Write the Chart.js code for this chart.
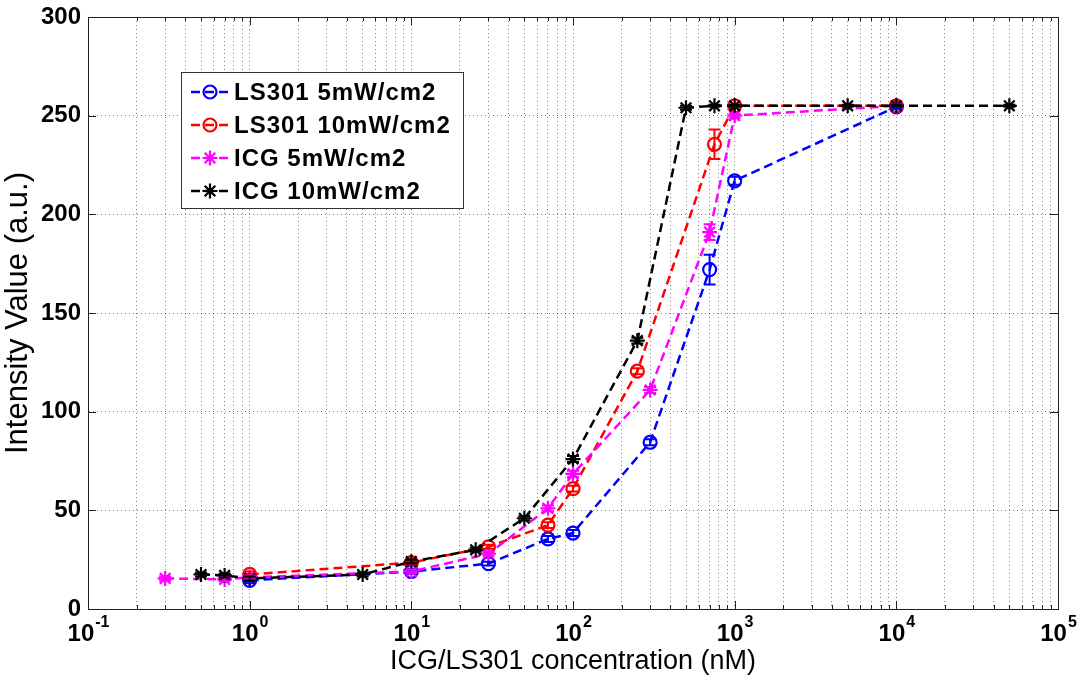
<!DOCTYPE html>
<html>
<head>
<meta charset="utf-8">
<script src="https://cdn.jsdelivr.net/npm/chart.js@4.4.0/dist/chart.umd.min.js"></script>
<style>
  html, body { margin: 0; padding: 0; background: #fff; }
</style>
</head>
<body>
<canvas id="intensityChart" width="1082" height="680"></canvas>
<script>
// concentration (nM) / intensity (a.u.) / error, one set per series
const ls301Low_conc = [1, 10, 30, 70, 100, 300, 700, 1000, 10000];
const ls301Low_val  = [14.5, 19, 23, 35.5, 38.5, 84.5, 172, 217, 254.5];
const ls301Low_err  = [1.5, 1, 1, 1.5, 1.5, 1.5, 7.5, 2, 1];

const ls301High_conc = [1, 10, 30, 70, 100, 250, 750, 1000, 10000];
const ls301High_val  = [17.5, 23.5, 31.5, 42.5, 61, 120.5, 235.5, 255, 255];
const ls301High_err  = [1.5, 1, 1, 1.5, 1.5, 1.5, 7.5, 0.5, 0.5];

const icgLow_conc = [0.3, 0.7, 1, 10, 30, 70, 100, 300, 700, 1000, 10000];
const icgLow_val  = [15.5, 15, 16, 19, 28, 51, 68.5, 111, 191, 250, 255];
const icgLow_err  = [1, 1, 1, 1, 1, 1.5, 1.5, 1.5, 4, 1, 0.5];

const icgHigh_conc = [0.5, 0.7, 1, 5, 10, 25, 50, 100, 250, 500, 750, 1000, 5000, 10000, 50000];
const icgHigh_val  = [17.5, 17, 15.5, 17.5, 24, 30, 46, 76, 136, 254, 255, 255, 255, 255, 255];
const icgHigh_err  = [1, 1, 1, 1, 1, 1, 1, 1.5, 1.5, 1, 0.5, 0.5, 0.5, 0.5, 0.5];

const seriesNames = ["LS301 5mW/cm2", "LS301 10mW/cm2", "ICG 5mW/cm2", "ICG 10mW/cm2"];
const seriesColors = ["#0000FF", "#FF0000", "#FF00FF", "#000000"];

const yTicks = [0, 50, 100, 150, 200, 250, 300];

const FONT = "'Liberation Sans', Arial, Helvetica, sans-serif";

// log axis ticks: 1..9 x 10^n
const xTickValues = [];
for (let e = -1; e <= 4; e++) {
    for (let k = 1; k <= 9; k++) {
        xTickValues.push(Number((k * Math.pow(10, e)).toPrecision(6)));
    }
}
xTickValues.push(1e5);

const isDecade = (v) => Math.abs(Math.log10(v) - Math.round(Math.log10(v))) < 1e-9;

const toPoints = (xs, ys) => xs.map((x, i) => ({ x: x, y: ys[i] }));

const makeSet = (idx, xs, ys, errs, style, order) => ({
    label: seriesNames[idx],
    data: toPoints(xs, ys),
    errors: errs,
    borderColor: seriesColors[idx],
    backgroundColor: seriesColors[idx],
    borderWidth: 2.5,
    borderDash: [9, 5],
    tension: 0,
    fill: false,
    pointStyle: style,
    pointRadius: style === "circle" ? 6.5 : 7.5,
    pointBorderWidth: 2.2,
    pointBorderColor: seriesColors[idx],
    pointBackgroundColor: "rgba(0,0,0,0)",
    order: order
});

const errorBars = {
    id: "errorBars",
    afterDatasetsDraw(chart) {
        const ctx = chart.ctx;
        const xs = chart.scales.x, ys = chart.scales.y;
        chart.data.datasets.forEach((ds) => {
            ctx.save();
            ctx.strokeStyle = ds.borderColor;
            ctx.lineWidth = 2;
            ds.data.forEach((p, i) => {
                const e = ds.errors[i];
                if (!e) return;
                const px = xs.getPixelForValue(p.x);
                const top = ys.getPixelForValue(p.y + e);
                const bot = ys.getPixelForValue(p.y - e);
                ctx.beginPath();
                ctx.moveTo(px, top); ctx.lineTo(px, bot);
                ctx.moveTo(px - 6, top); ctx.lineTo(px + 6, top);
                ctx.moveTo(px - 6, bot); ctx.lineTo(px + 6, bot);
                ctx.stroke();
            });
            ctx.restore();
        });
    }
};

// frame, inward ticks and the 10^n labels with a raised exponent
const frameTicks = {
    id: "frameTicks",
    afterDraw(chart) {
        const ctx = chart.ctx;
        const a = chart.chartArea;
        const xs = chart.scales.x, ys = chart.scales.y;
        ctx.save();
        ctx.strokeStyle = "#222";
        ctx.lineWidth = 1;
        ctx.beginPath();
        xTickValues.forEach((v) => {
            const px = Math.round(xs.getPixelForValue(v)) + 0.5;
            const len = isDecade(v) ? 8 : 4;
            ctx.moveTo(px, a.bottom); ctx.lineTo(px, a.bottom - len);
            ctx.moveTo(px, a.top); ctx.lineTo(px, a.top + len);
        });
        yTicks.forEach((v) => {
            const py = Math.round(ys.getPixelForValue(v)) + 0.5;
            ctx.moveTo(a.left, py); ctx.lineTo(a.left + 8, py);
            ctx.moveTo(a.right, py); ctx.lineTo(a.right - 8, py);
        });
        ctx.stroke();
        ctx.strokeRect(Math.round(a.left) + 0.5, Math.round(a.top) + 0.5,
            Math.round(a.right - a.left), Math.round(a.bottom - a.top));

        ctx.fillStyle = "#000";
        ctx.textBaseline = "alphabetic";
        ctx.textAlign = "left";
        xTickValues.filter(isDecade).forEach((v) => {
            const px = xs.getPixelForValue(v);
            const ex = String(Math.round(Math.log10(v)));
            ctx.font = "bold 24px " + FONT;
            const wBase = ctx.measureText("10").width;
            ctx.font = "bold 16px " + FONT;
            const wExp = ctx.measureText(ex).width;
            const x0 = px - (wBase + wExp) / 2;
            ctx.font = "bold 24px " + FONT;
            ctx.fillText("10", x0, 641);
            ctx.font = "bold 16px " + FONT;
            ctx.fillText(ex, x0 + wBase + 1, 627);
        });
        ctx.restore();
    }
};

const boxLegend = {
    id: "boxLegend",
    afterDraw(chart) {
        const ctx = chart.ctx;
        const bx = 181, by = 72, bw = 282, bh = 136;
        ctx.save();
        ctx.fillStyle = "#fff";
        ctx.fillRect(bx, by, bw, bh);
        ctx.strokeStyle = "#333";
        ctx.lineWidth = 1;
        ctx.strokeRect(bx + 0.5, by + 0.5, bw, bh);
        const byName = {};
        chart.data.datasets.forEach((ds) => { byName[ds.label] = ds; });
        seriesNames.forEach((name, i) => {
            const ds = byName[name];
            const cy = by + 20 + i * 33;
            ctx.strokeStyle = ds.borderColor;
            ctx.lineWidth = 2.5;
            ctx.setLineDash([9, 5]);
            ctx.beginPath();
            ctx.moveTo(191, cy); ctx.lineTo(232, cy);
            ctx.stroke();
            ctx.setLineDash([]);
            ctx.lineWidth = 2.2;
            const mx = 210;
            ctx.beginPath();
            if (ds.pointStyle === "circle") {
                ctx.arc(mx, cy, 6.5, 0, Math.PI * 2);
            } else {
                const r = 7.5, d = r * Math.SQRT1_2;
                ctx.moveTo(mx - r, cy); ctx.lineTo(mx + r, cy);
                ctx.moveTo(mx, cy - r); ctx.lineTo(mx, cy + r);
                ctx.moveTo(mx - d, cy - d); ctx.lineTo(mx + d, cy + d);
                ctx.moveTo(mx - d, cy + d); ctx.lineTo(mx + d, cy - d);
            }
            ctx.stroke();
            ctx.fillStyle = "#000";
            ctx.font = "bold 24px " + FONT;
            ctx.letterSpacing = "1px";
            ctx.textBaseline = "middle";
            ctx.textAlign = "left";
            ctx.fillText(name, 234, cy + 1);
        });
        ctx.restore();
    }
};

const canvas = document.getElementById("intensityChart");

new Chart(canvas, {
    type: "line",
    data: {
        datasets: [
            makeSet(0, ls301Low_conc, ls301Low_val, ls301Low_err, "circle", 3),
            makeSet(1, ls301High_conc, ls301High_val, ls301High_err, "circle", 2),
            makeSet(2, icgLow_conc, icgLow_val, icgLow_err, "star", 1),
            makeSet(3, icgHigh_conc, icgHigh_val, icgHigh_err, "star", 0)
        ]
    },
    options: {
        responsive: false,
        animation: false,
        devicePixelRatio: 1,
        layout: { padding: { top: 17, right: 24, bottom: 0, left: 0 } },
        plugins: {
            legend: { display: false },
            tooltip: { enabled: false }
        },
        scales: {
            x: {
                type: "logarithmic",
                min: 0.1,
                max: 1e5,
                afterBuildTicks: (scale) => {
                    scale.ticks = xTickValues.map((v) => ({ value: v, major: isDecade(v) }));
                },
                afterFit: (scale) => {
                    scale.height = 71;
                    scale.paddingLeft = 0;
                    scale.paddingRight = 0;
                },
                ticks: {
                    autoSkip: false,
                    maxRotation: 0,
                    padding: 6,
                    color: "#000",
                    font: { family: FONT, size: 24, weight: "bold" },
                    // drawn by frameTicks with a raised exponent
                    callback: () => ""
                },
                grid: { color: "rgba(0,0,0,0.5)", lineWidth: 1, drawTicks: false },
                border: { display: true, color: "#222", width: 1, dash: [1, 3] },
                title: {
                    display: true,
                    text: "ICG/LS301 concentration (nM)",
                    color: "#000",
                    font: { family: FONT, size: 27 },
                    padding: { top: 0, bottom: 2 }
                }
            },
            y: {
                min: 0,
                max: 300,
                afterFit: (scale) => {
                    scale.width = 88;
                    scale.paddingTop = 0;
                    scale.paddingBottom = 0;
                },
                ticks: {
                    stepSize: 50,
                    padding: 7,
                    color: "#000",
                    font: { family: FONT, size: 24, weight: "bold" }
                },
                grid: { color: "rgba(0,0,0,0.5)", lineWidth: 1, drawTicks: false },
                border: { display: true, color: "#222", width: 1, dash: [1, 3] },
                title: {
                    display: true,
                    text: "Intensity Value (a.u.)",
                    color: "#000",
                    font: { family: FONT, size: 31 },
                    padding: { top: 0, bottom: 0 }
                }
            }
        }
    },
    plugins: [errorBars, frameTicks, boxLegend]
});
</script>
</body>
</html>
